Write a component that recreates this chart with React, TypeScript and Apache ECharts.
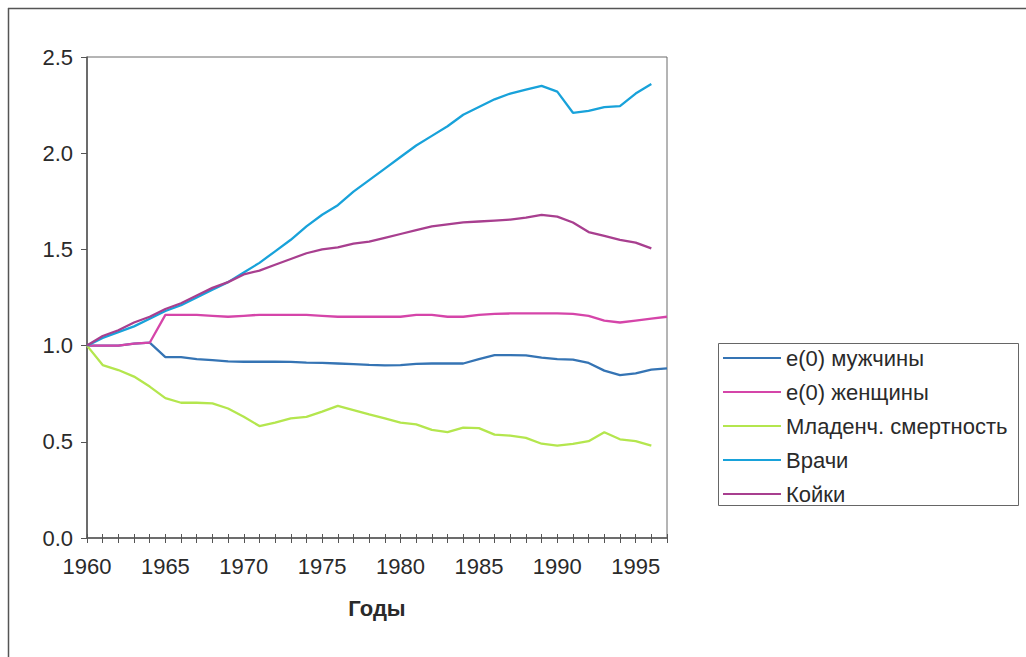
import React, { useEffect, useRef } from "react";
import * as echarts from "echarts";

const years: string[] = [
  "1960","1961","1962","1963","1964","1965","1966","1967","1968","1969",
  "1970","1971","1972","1973","1974","1975","1976","1977","1978","1979",
  "1980","1981","1982","1983","1984","1985","1986","1987","1988","1989",
  "1990","1991","1992","1993","1994","1995","1996","1997",
];

const e0Men: (number | null)[] = [
  1.0, 1.0, 1.0, 1.01, 1.015, 0.94, 0.94, 0.93, 0.925, 0.918,
  0.916, 0.916, 0.916, 0.915, 0.912, 0.91, 0.907, 0.904, 0.9, 0.897,
  0.899, 0.905, 0.907, 0.907, 0.907, 0.93, 0.95, 0.951, 0.949, 0.937,
  0.93, 0.927, 0.91, 0.87, 0.847, 0.856, 0.875, 0.882,
];

const e0Women: (number | null)[] = [
  1.0, 1.0, 1.0, 1.01, 1.015, 1.16, 1.16, 1.16, 1.155, 1.15,
  1.155, 1.16, 1.16, 1.16, 1.16, 1.155, 1.15, 1.15, 1.15, 1.15,
  1.15, 1.16, 1.16, 1.15, 1.15, 1.16, 1.165, 1.167, 1.167, 1.167,
  1.167, 1.165, 1.155, 1.13, 1.12, 1.13, 1.14, 1.15,
];

const infantMortality: (number | null)[] = [
  1.0, 0.899, 0.873, 0.839, 0.787, 0.727, 0.703, 0.703, 0.7, 0.673,
  0.63, 0.582, 0.6, 0.622, 0.63, 0.657, 0.687, 0.665, 0.643, 0.622,
  0.6, 0.591, 0.562, 0.55, 0.574, 0.571, 0.537, 0.532, 0.52, 0.49,
  0.48, 0.489, 0.503, 0.55, 0.513, 0.503, 0.48, null,
];

const doctors: (number | null)[] = [
  1.0, 1.04, 1.07, 1.1, 1.14, 1.18, 1.21, 1.25, 1.29, 1.33,
  1.38, 1.43, 1.49, 1.55, 1.62, 1.68, 1.73, 1.8, 1.86, 1.92,
  1.98, 2.04, 2.09, 2.14, 2.2, 2.24, 2.28, 2.31, 2.33, 2.35,
  2.32, 2.21, 2.22, 2.24, 2.245, 2.31, 2.36, null,
];

const beds: (number | null)[] = [
  1.0, 1.05, 1.08, 1.12, 1.15, 1.19, 1.22, 1.26, 1.3, 1.33,
  1.37, 1.39, 1.42, 1.45, 1.48, 1.5, 1.51, 1.53, 1.54, 1.56,
  1.58, 1.6, 1.62, 1.63, 1.64, 1.645, 1.65, 1.655, 1.665, 1.68,
  1.67, 1.64, 1.59, 1.57, 1.55, 1.535, 1.505, null,
];

const seriesNames: string[] = [
  "e(0) мужчины",
  "e(0) женщины",
  "Младенч. смертность",
  "Врачи",
  "Койки",
];
const seriesColors: string[] = ["#3574b4", "#d545a9", "#b4e64e", "#18a2da", "#a83f8f"];
const seriesData = [e0Men, e0Women, infantMortality, doctors, beds];

const FONT = "'Liberation Sans', Arial, sans-serif";
const TEXT = "#2a2a2a";
const FS = 22;

export default function App() {
  const ref = useRef<HTMLDivElement>(null);
  useEffect(() => {
    if (!ref.current) return;
    const chart = echarts.init(ref.current, undefined, { renderer: "svg" });
    chart.setOption({
      animation: false,
      backgroundColor: "#ffffff",
      textStyle: { fontFamily: FONT },
      grid: { left: 87, top: 57, width: 580, height: 481, show: true, borderColor: "#6a6a6a", borderWidth: 1 },
      legend: {
        orient: "vertical",
        left: 718,
        top: 343,
        padding: [3, 5, 3, 5],
        itemWidth: 58,
        itemHeight: 2,
        itemGap: 10,
        icon: "rect",
        data: seriesNames,
        textStyle: { fontFamily: FONT, fontSize: FS, color: TEXT, lineHeight: 24 },
      },
      xAxis: [
        {
          type: "category",
          data: years,
          boundaryGap: false,
          position: "bottom",
          name: "Годы",
          nameLocation: "middle",
          nameGap: 59,
          nameTextStyle: { fontFamily: FONT, fontSize: FS, fontWeight: "bold", color: TEXT },
          axisLine: { show: true, lineStyle: { color: "#555", width: 1.5 } },
          axisTick: { show: true, interval: 0, length: 5, lineStyle: { color: "#555", width: 1 } },
          axisLabel: { interval: 4, margin: 17, fontSize: FS, color: TEXT, fontFamily: FONT },
          splitLine: { show: false },
        },
        {
          type: "category",
          data: years,
          boundaryGap: false,
          position: "bottom",
          axisLine: { show: false },
          axisTick: { show: true, inside: true, interval: 0, length: 4, lineStyle: { color: "#555", width: 1 } },
          axisLabel: { show: false },
          splitLine: { show: false },
        },
      ],
      yAxis: {
        type: "value",
        min: 0,
        max: 2.5,
        interval: 0.5,
        axisLine: { show: true, lineStyle: { color: "#555", width: 1.5 } },
        axisTick: { show: true, length: 6, lineStyle: { color: "#555", width: 1 } },
        axisLabel: {
          margin: 14,
          fontSize: FS,
          color: TEXT,
          fontFamily: FONT,
          formatter: (v: number) => v.toFixed(1),
        },
        splitLine: { show: false },
      },
      graphic: [
        { type: "line", shape: { x1: 8, y1: 8.5, x2: 1026, y2: 8.5 }, style: { stroke: "#555", lineWidth: 1.5 } },
        { type: "line", shape: { x1: 8.5, y1: 8, x2: 8.5, y2: 657 }, style: { stroke: "#555", lineWidth: 1.5 } },
        { type: "rect", shape: { x: 718.5, y: 343.5, width: 300, height: 162 }, style: { fill: "none", stroke: "#666", lineWidth: 1 }, z: 10 },
      ],
      series: seriesNames.map((name, i) => ({
        name,
        type: "line",
        data: seriesData[i],
        xAxisIndex: 0,
        showSymbol: false,
        symbol: "none",
        lineStyle: { width: 2.3, color: seriesColors[i] },
        itemStyle: { color: seriesColors[i] },
        color: seriesColors[i],
      })),
    });
    return () => chart.dispose();
  }, []);
  return (
    <div
      ref={ref}
      style={{ position: "fixed", left: 0, top: 0, width: 1026, height: 657, background: "#fff" }}
    />
  );
}
